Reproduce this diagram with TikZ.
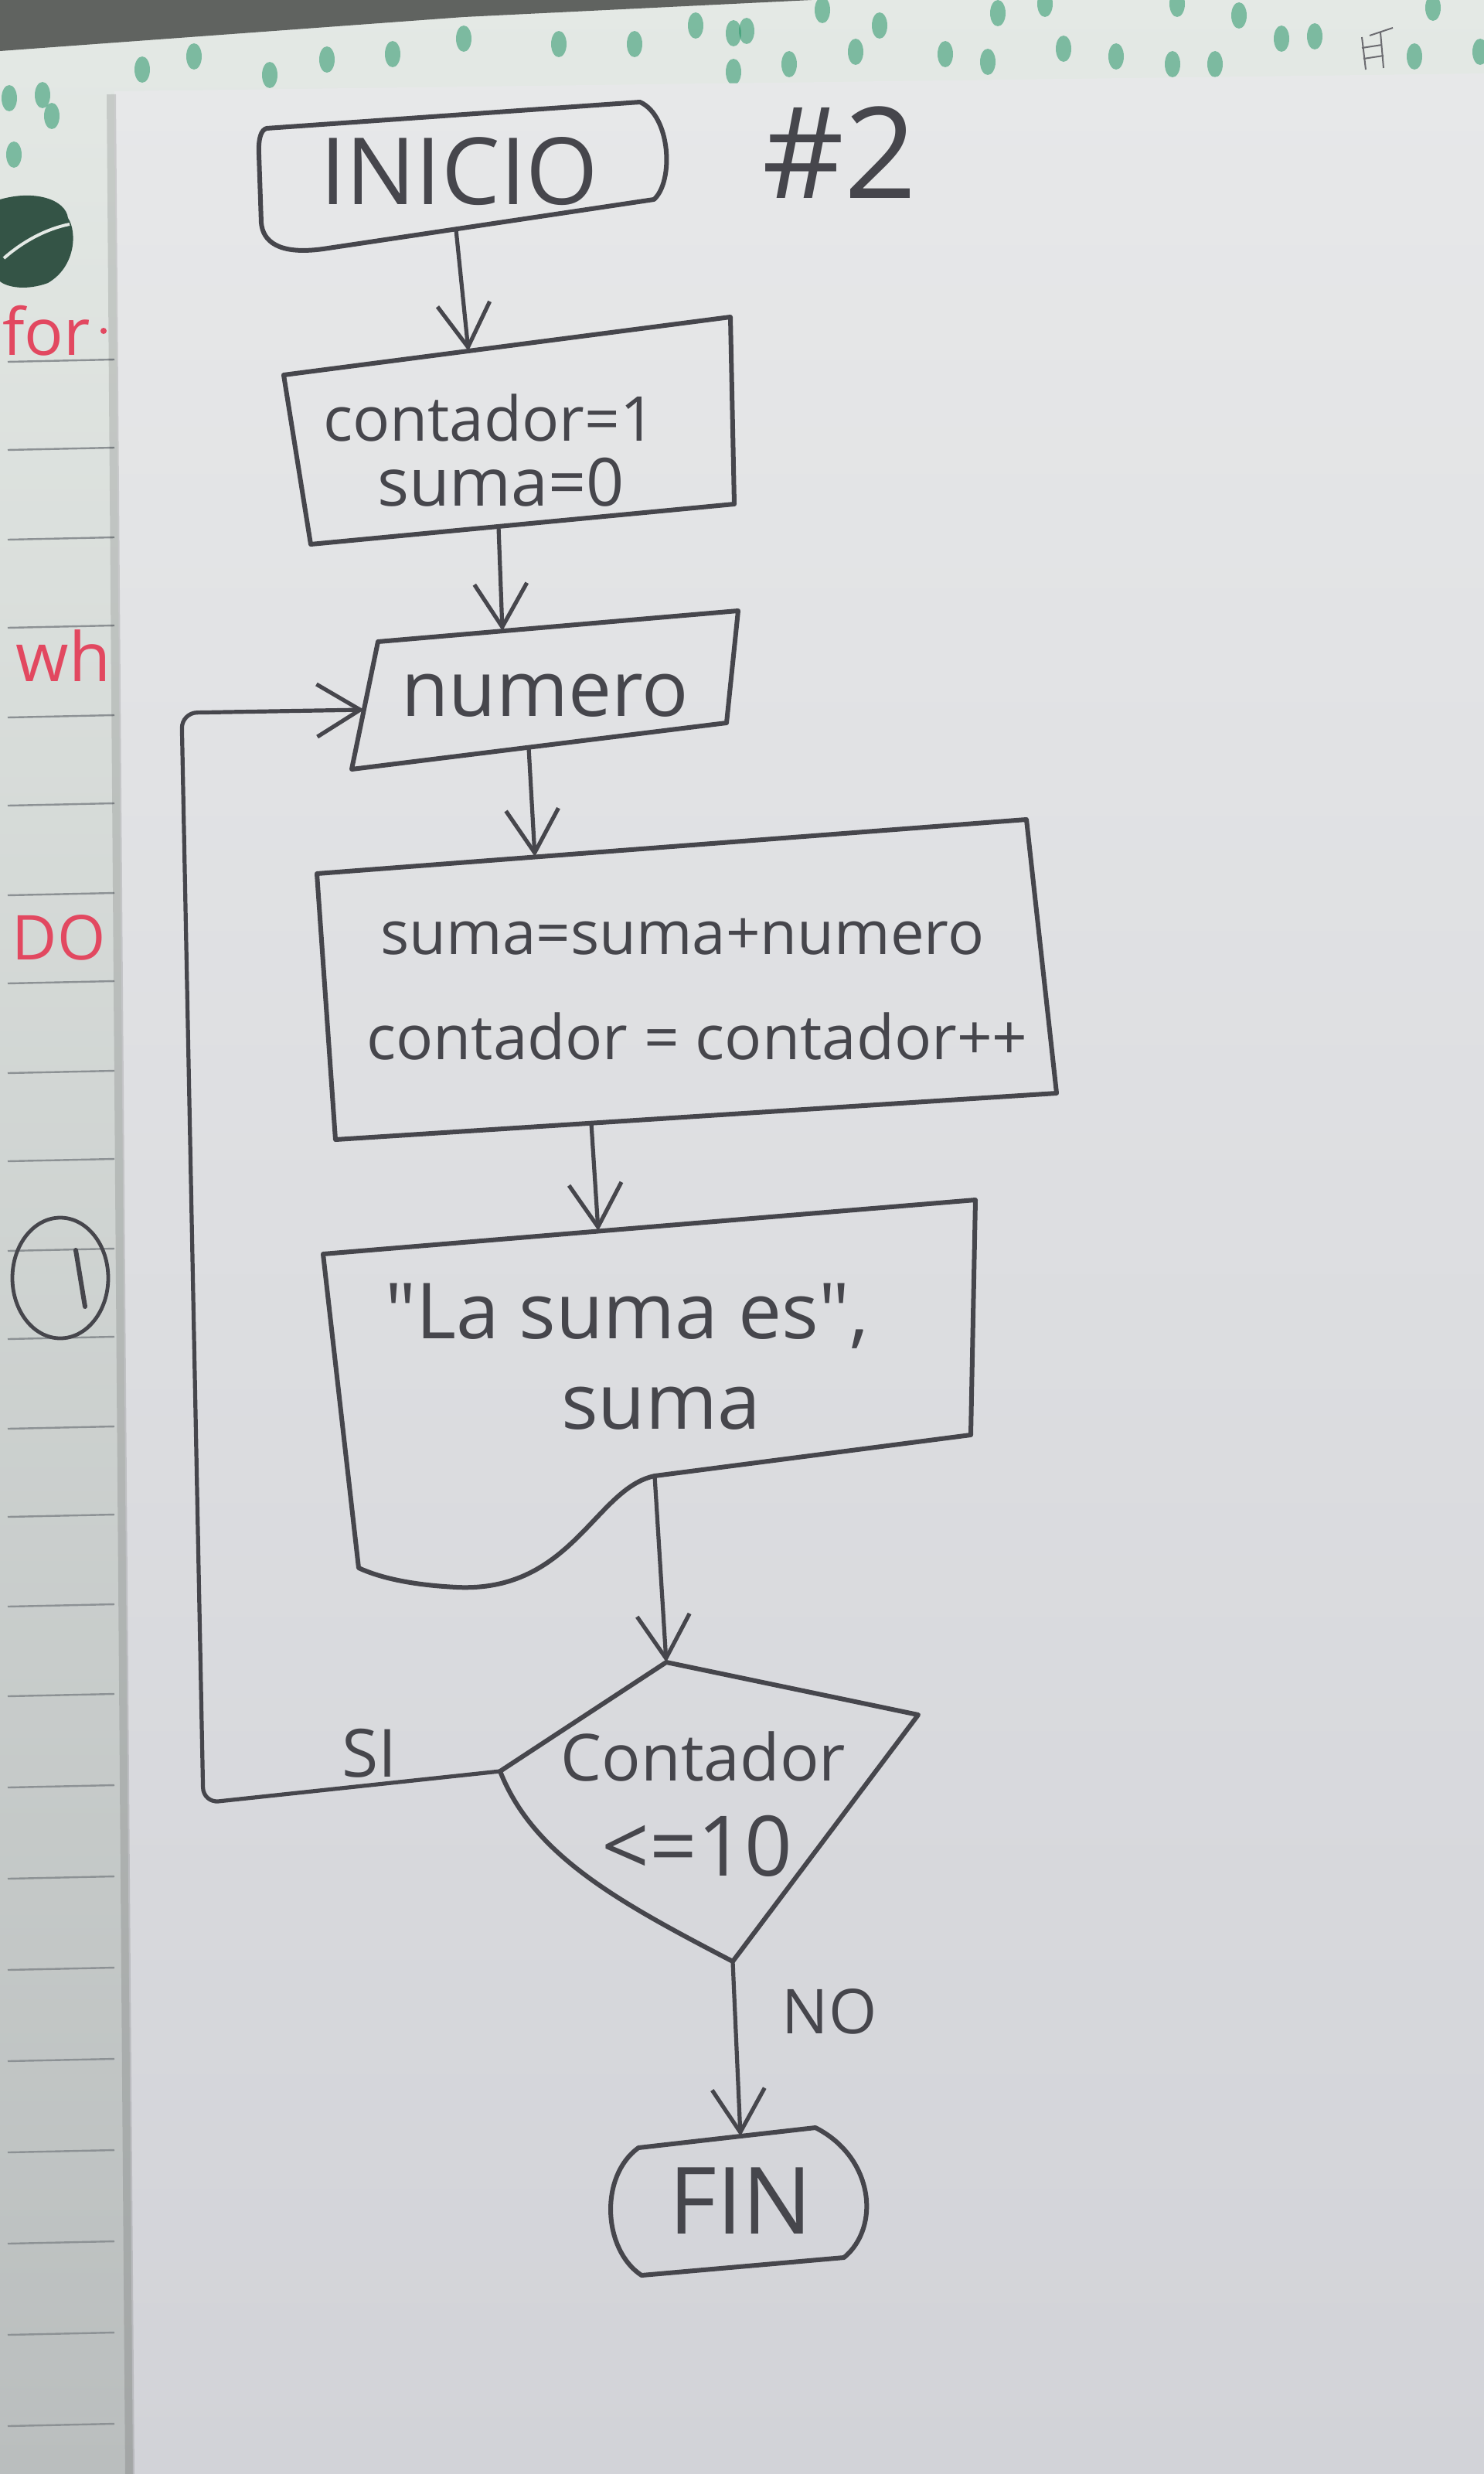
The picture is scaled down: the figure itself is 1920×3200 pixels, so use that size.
\documentclass[tikz,border=0pt]{standalone}
\usepackage{fontspec}
\setmainfont{Open Sans}
\usetikzlibrary{arrows.meta}
\definecolor{pencil}{RGB}{70,70,76}
\definecolor{sheettop}{RGB}{231,232,233}
\definecolor{sheetbot}{RGB}{210,211,216}
\definecolor{nbtop}{RGB}{228,233,229}
\definecolor{nbbot}{RGB}{186,190,190}
\definecolor{dotgreen}{RGB}{40,150,105}
\definecolor{inkred}{RGB}{226,72,96}
\definecolor{leafgreen}{RGB}{52,84,70}
\definecolor{darkedge}{RGB}{96,99,96}
\definecolor{nbline}{RGB}{140,145,148}
\newcommand\myfs[1]{\fontsize{#1}{#1}\selectfont}
\begin{document}
\begin{tikzpicture}[x=0.5pt,y=-0.5pt,
  outline/.style={draw=pencil,line width=3pt,line join=round,line cap=round},
  conn/.style={draw=pencil,line width=2.6pt,line cap=round,-{Straight Barb[length=28pt,width=34pt]}},
  lbl/.style={text=pencil,inner sep=0pt},
  redink/.style={text=inkred,inner sep=0pt},
  gdot/.style={fill=dotgreen,opacity=0.55},
  notebookline/.style={draw=nbline,line width=1.2pt}]
\useasboundingbox (0,0) rectangle (1920,3200);
% ---------- background: notebook underneath ----------
\shade[top color=nbtop,bottom color=nbbot] (0,0) rectangle (1920,3200);
\fill[darkedge] (0,0) -- (1050,0) -- (600,22) -- (0,66) -- cycle;
\foreach \x/\y in {184/90,251/73,349/97,423/77,508/70,600/50,723/57,821/57,900/33,949/43,949/93,
  55/123,12/127,67/150,18/200,966/40,1021/83,1064/13,1107/67,1138/33,1223/70,1278/80,1291/17,
  1352/5,1376/63,1444/73,1517/83,1523/5,1572/83,1603/20,1658/50,1701/47,1830/73,1854/10,1915/67}
  \fill[gdot] (\x,\y) ellipse [x radius=10, y radius=17];
\draw[pencil!80,line width=1pt] (1762,48) -- (1767,90) (1786,42) -- (1790,88)
  (1762,62) -- (1788,58) (1764,76) -- (1790,72) (1772,46) -- (1802,36);
% leaf
\fill[leafgreen] (0,258) .. controls (45,245) and (85,258) .. (88,282)
  .. controls (100,300) and (98,345) .. (62,366) .. controls (35,376) and (10,372) .. (0,364) -- cycle;
\draw[nbtop,line width=2pt] (5,334) .. controls (30,312) and (60,296) .. (90,290);
% notebook lines
\foreach \y in {468,582,698,812,928,1042,1158,1272,1388,1502,1618,1732,1848,1962,2078,2194,2312,2430,2548,2666,2784,2902,3020,3138}
  \draw[notebookline] (10,\y) -- (148,\y-3);
% red words
\node[redink,font=\myfs{42}] (wfor) at (60,428) {for};
\fill[inkred] (134,428) circle [radius=4];
\node[redink,font=\myfs{44}] (wwh) at (82,848) {wh};
\node[redink,font=\myfs{40}] (wdo) at (76,1213) {DO};
% circled one
\draw[pencil,line width=2.4pt] (78,1653) ellipse [x radius=62, y radius=78];
\draw[pencil,line width=3pt,line cap=round] (98,1617) -- (110,1690);
% ---------- the sheet ----------
\shade[top color=sheettop,bottom color=sheetbot] (148,118) -- (1920,95) -- (1920,3200) -- (172,3200) -- cycle;
\draw[black,opacity=0.12,line width=6pt] (144,122) -- (168,3200);
% ---------- flowchart ----------
% INICIO
\draw[outline] (345,166) -- (828,132) .. controls (868,150) and (872,235) .. (846,258)
  -- (418,322) .. controls (360,330) and (340,312) .. (338,288)
  -- (335,200) .. controls (334,178) and (338,168) .. (345,166) -- cycle;
\node[lbl,font=\myfs{60}] (inicio) at (594,222) {INICIO};
\coordinate (inicio-s) at (590,297);
\node[lbl,font=\myfs{82}] (num2) at (1086,197) {\#2};
% box 1
\draw[outline] (367,485) -- (945,410) -- (950,652) -- (402,704) -- cycle;
\coordinate (box1-n) at (606,454);
\coordinate (box1-s) at (645,681);
\node[lbl,font=\myfs{40}] (b1a) at (633,540) {contador=1};
\node[lbl,font=\myfs{43}] (b1b) at (648,624) {suma=0};
% numero (input)
\draw[outline] (489,830) -- (955,790) -- (940,935) -- (455,995) -- cycle;
\coordinate (num-n) at (650,816);
\coordinate (num-s) at (684,967);
\coordinate (num-w) at (471,918);
\node[lbl,font=\myfs{50}] (numero) at (705,900) {numero};
% box 2
\draw[outline] (410,1130) -- (1328,1060) -- (1367,1414) -- (434,1474) -- cycle;
\coordinate (box2-n) at (692,1108);
\coordinate (box2-s) at (765,1453);
\node[lbl,font=\myfs{39}] (b2a) at (883,1212) {suma=suma+numero};
\node[lbl,font=\myfs{40}] (b2b) at (902,1340) {contador = contador++};
% document
\draw[outline] (418,1622) -- (1262,1552) -- (1256,1856) -- (847,1909)
  .. controls (770,1925) and (740,2060) .. (591,2053)
  .. controls (530,2050) and (490,2040) .. (464,2028) -- cycle;
\coordinate (doc-n) at (774,1592);
\coordinate (doc-s) at (847,1909);
\node[lbl,font=\myfs{50}] (d1) at (811,1702) {\textquotedbl La suma es\textquotedbl,};
\node[lbl,font=\myfs{50}] (d2) at (855,1822) {suma};
% decision
\draw[outline] (862,2150) -- (1188,2218) -- (948,2537)
  .. controls (800,2460) and (690,2400) .. (647,2291) -- cycle;
\coordinate (dec-n) at (862,2150);
\coordinate (dec-w) at (647,2291);
\coordinate (dec-s) at (948,2537);
\node[lbl,font=\myfs{42}] (c1) at (910,2272) {Contador};
\node[lbl,font=\myfs{54}] (c2) at (902,2388) {<=10};
% FIN
\draw[outline] (826,2778) -- (1055,2752) .. controls (1130,2790) and (1140,2880) .. (1092,2920)
  -- (830,2943) .. controls (780,2910) and (775,2815) .. (826,2778) -- cycle;
\coordinate (fin-n) at (958,2763);
\node[lbl,font=\myfs{60}] (fin) at (958,2847) {FIN};
% loop corners
\coordinate (loop-b) at (263,2332);
\coordinate (loop-t) at (235,922);
% connectors
\draw[conn] (inicio-s) -- (box1-n);
\draw[conn] (box1-s) -- (num-n);
\draw[conn] (num-s) -- (box2-n);
\draw[conn] (box2-s) -- (doc-n);
\draw[conn] (doc-s) -- (dec-n);
\draw[conn,rounded corners=10pt] (dec-w) -- (loop-b) -- (loop-t) -- (num-w);
\draw[conn] (dec-s) -- (fin-n);
% branch labels
\node[lbl,font=\myfs{43}] (si) at (478,2268) {SI};
\node[lbl,font=\myfs{40}] (no) at (1073,2602) {NO};
\end{tikzpicture}
\end{document}
